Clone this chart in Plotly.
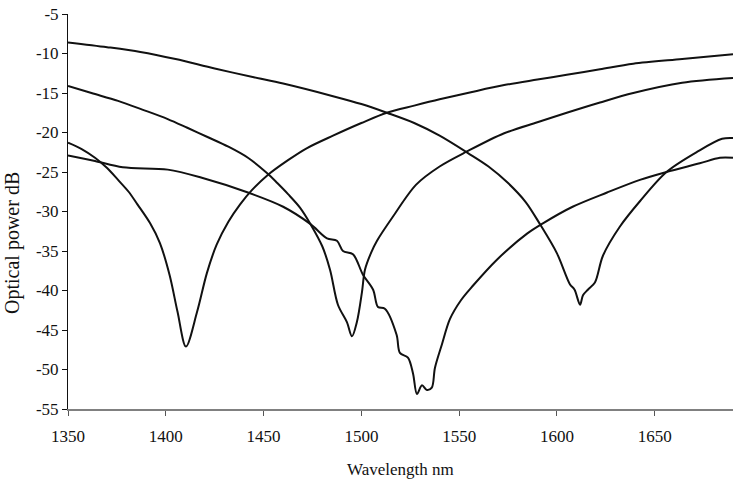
import plotly.graph_objects as go

# Curve A (dip near 1410 nm)
wl_a = [1350, 1357, 1363.8, 1370, 1375.6, 1381, 1385.5, 1392, 1397, 1402, 1406, 1410.3, 1416,
        1421, 1426, 1432, 1438, 1444, 1452, 1462.5, 1472, 1485.5, 1500, 1513, 1527, 1540,
        1556, 1573, 1590, 1605, 1622, 1639, 1664, 1690]
db_a = [-21.3, -22.1, -23.2, -24.5, -26.0, -27.5, -29.1, -31.5, -34.0, -38.1, -42.7, -47.1, -42.7,
        -37.8, -34.2, -31.3, -29.1, -27.3, -25.4, -23.5, -22.0, -20.4, -18.8, -17.5, -16.6, -15.8,
        -14.9, -14.0, -13.3, -12.7, -12.0, -11.3, -10.7, -10.1]

# Curve B (dip near 1495 nm)
wl_b = [1350, 1362, 1375.6, 1388, 1401, 1411, 1421.6, 1432, 1442, 1452, 1457, 1462.5, 1468.6,
        1474, 1480, 1484, 1488, 1492.6, 1495.2, 1497.7, 1500.3, 1501.8, 1505, 1508, 1516, 1528,
        1540, 1554, 1573, 1590, 1605, 1622, 1639, 1664, 1690]
db_b = [-14.1, -15.0, -16.0, -17.1, -18.3, -19.4, -20.6, -21.8, -23.2, -25.2, -26.4, -27.8, -29.5,
        -31.6, -34.4, -37.4, -41.8, -44.0, -45.8, -44.0, -40.2, -37.4, -35.2, -33.7, -30.7, -26.6,
        -24.3, -22.4, -20.1, -18.7, -17.5, -16.2, -15.0, -13.7, -13.1]

# Curve C (dip near 1530 nm)
wl_c = [1350, 1363.8, 1378, 1401, 1418, 1442, 1460, 1474, 1482.4, 1487.5, 1490.6, 1495.7,
        1500.8, 1506, 1508.5, 1512, 1518, 1519.7, 1523.8, 1526.4, 1528.4, 1531, 1533.5, 1536,
        1537.6, 1541.2, 1545.3, 1551, 1557, 1569.3, 1584.7, 1592.8, 1608, 1625.6, 1642.4, 1656,
        1673, 1683.3, 1690]
db_c = [-22.9, -23.6, -24.4, -24.7, -25.7, -27.6, -29.4, -31.6, -33.4, -33.7, -35.0, -35.4,
        -38.0, -39.9, -42.1, -42.3, -45.6, -47.9, -48.5, -50.5, -53.1, -52.0, -52.6, -52.3,
        -49.8, -46.8, -43.6, -41.2, -39.4, -36.1, -32.8, -31.5, -29.4, -27.6, -26.0, -25.0,
        -23.9, -23.2, -23.2]

# Curve D (dip near 1612 nm)
wl_d = [1350, 1370, 1387, 1405, 1425, 1445, 1460, 1485.5, 1500, 1513, 1527, 1540, 1554.5, 1565,
        1575, 1584, 1591.3, 1600, 1606.6, 1609, 1611.8, 1613.3, 1615.8, 1619.4, 1623.5, 1632.2,
        1642.4, 1656, 1672, 1684.4, 1690]
db_d = [-8.6, -9.2, -9.8, -10.7, -11.9, -13.0, -13.8, -15.4, -16.4, -17.5, -18.8, -20.4, -22.6,
        -24.3, -26.4, -28.8, -31.6, -35.3, -39.2, -39.9, -41.8, -40.6, -39.9, -39.0, -35.6, -31.9,
        -28.7, -25.0, -22.4, -20.8, -20.7]

x_ticks = [1350, 1400, 1450, 1500, 1550, 1600, 1650]
y_ticks = [-55, -50, -45, -40, -35, -30, -25, -20, -15, -10, -5]

FONT = "Liberation Serif, Times New Roman, serif"

fig = go.Figure()
for wl, db in [(wl_a, db_a), (wl_b, db_b), (wl_c, db_c), (wl_d, db_d)]:
    fig.add_trace(go.Scatter(x=wl, y=db, mode="lines",
                             line=dict(color="#111111", width=2, shape="spline", smoothing=0.9),
                             showlegend=False, hoverinfo="skip"))

fig.update_layout(
    width=738, height=496,
    margin=dict(l=68, r=5, t=7, b=87),
    paper_bgcolor="white", plot_bgcolor="white",
    font=dict(family=FONT, size=17, color="#111111"),
    xaxis=dict(range=[1350, 1690], tickvals=x_ticks, ticktext=[str(v) for v in x_ticks],
               showgrid=False, zeroline=False, showline=True, linecolor="#808080", linewidth=2,
               ticks="outside", ticklen=5, tickcolor="#555555", tickwidth=1,
               ticklabelstandoff=6, ticklabeloverflow="allow",
               tickfont=dict(family=FONT, size=17)),
    yaxis=dict(range=[-55, -5], tickvals=y_ticks, ticktext=[str(v) for v in y_ticks],
               showgrid=False, zeroline=False, showline=True, linecolor="#111111", linewidth=1,
               ticks="outside", ticklen=5, tickcolor="#111111", tickwidth=1,
               ticklabeloverflow="allow", tickfont=dict(family=FONT, size=17)),
    annotations=[
        dict(text="Wavelength nm", xref="paper", yref="paper", x=0.5, y=(409 - 471) / 402,
             showarrow=False, xanchor="center", yanchor="middle",
             font=dict(family=FONT, size=17)),
        dict(text="Optical power dB", xref="paper", yref="paper", x=(13 - 68) / 665,
             y=(409 - 240) / 402, showarrow=False, xanchor="center", yanchor="middle",
             textangle=-90, font=dict(family=FONT, size=20)),
    ],
)

fig.write_html("out.html")
